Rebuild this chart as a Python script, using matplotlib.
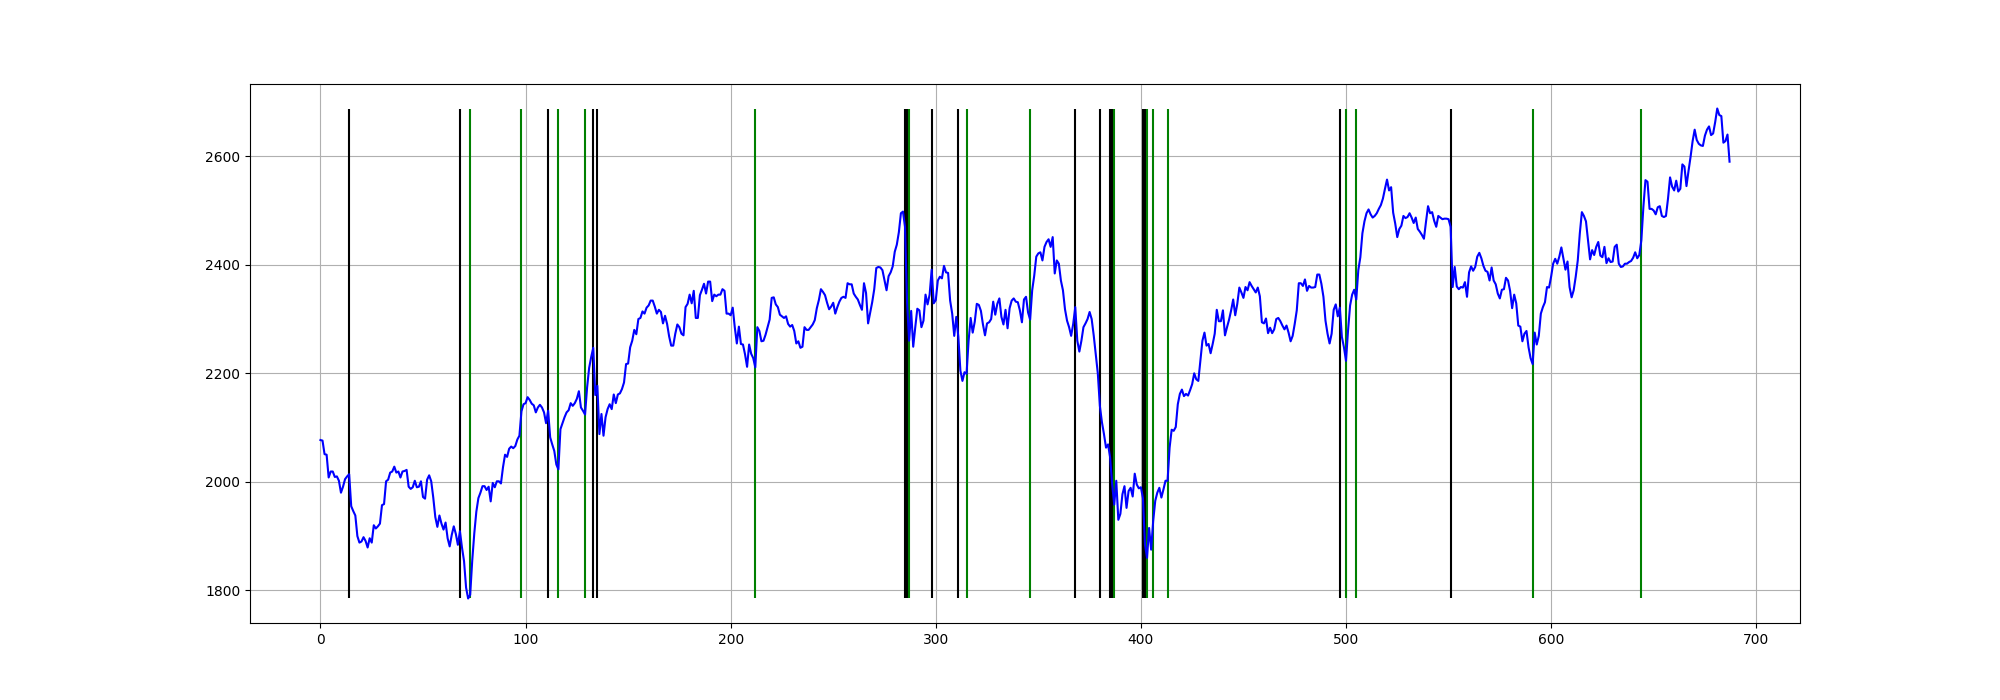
import numpy as np
import matplotlib
matplotlib.use("Agg")
import matplotlib.pyplot as plt

# closing prices, one per trading day
prices = [
    2077, 2076, 2051, 2050, 2008, 2019, 2019, 2009, 2010, 2002,
    1980, 1991, 2005, 2010, 2014, 1955, 1946, 1938, 1900, 1888,
    1890, 1898, 1891, 1879, 1896, 1888, 1920, 1914, 1918, 1923,
    1957, 1959, 2001, 2004, 2017, 2019, 2028, 2017, 2019, 2008,
    2019, 2020, 2022, 1991, 1987, 1990, 2002, 1990, 1991, 2001,
    1972, 1969, 2004, 2012, 2001, 1971, 1935, 1917, 1938, 1923,
    1912, 1925, 1896, 1881, 1902, 1918, 1904, 1884, 1909, 1879,
    1854, 1805, 1785, 1792, 1855, 1905, 1945, 1970, 1980, 1992,
    1992, 1985, 1991, 1964, 1998, 1990, 2001, 2001, 1997, 2027,
    2050, 2046, 2061, 2065, 2062, 2066, 2078, 2085, 2130, 2143,
    2145, 2156, 2151, 2144, 2141, 2128, 2137, 2142, 2137, 2128,
    2108, 2131, 2082, 2069, 2057, 2032, 2023, 2097, 2108, 2119,
    2128, 2132, 2145, 2140, 2145, 2153, 2167, 2137, 2131, 2124,
    2174, 2210, 2230, 2247, 2160, 2177, 2088, 2125, 2085, 2119,
    2134, 2143, 2134, 2161, 2145, 2161, 2163, 2171, 2183, 2217,
    2218, 2248, 2260, 2280, 2272, 2300, 2302, 2314, 2310, 2321,
    2325, 2334, 2334, 2323, 2310, 2317, 2313, 2292, 2306, 2291,
    2268, 2251, 2251, 2273, 2290, 2285, 2273, 2270, 2322, 2328,
    2345, 2329, 2352, 2302, 2302, 2344, 2354, 2365, 2347, 2369,
    2369, 2333, 2345, 2342, 2345, 2345, 2355, 2352, 2310, 2310,
    2307, 2321, 2285, 2255, 2286, 2254, 2253, 2235, 2212, 2253,
    2236, 2228, 2211, 2285, 2278, 2259, 2260, 2271, 2285, 2299,
    2339, 2340, 2327, 2322, 2308, 2305, 2302, 2305, 2291, 2286,
    2289, 2278, 2255, 2259, 2247, 2249, 2285, 2280, 2280, 2285,
    2290, 2298, 2320, 2335, 2355, 2350, 2344, 2330, 2318, 2323,
    2330, 2310, 2322, 2332, 2339, 2341, 2339, 2366, 2364, 2364,
    2347, 2341, 2336, 2326, 2317, 2366, 2348, 2292, 2311, 2331,
    2355, 2394, 2396, 2395, 2390, 2371, 2353, 2379, 2386, 2397,
    2424, 2437, 2460, 2495, 2498, 2470, 2330, 2260, 2315, 2249,
    2285, 2319, 2316, 2285, 2297, 2345, 2327, 2345, 2391, 2329,
    2335, 2371, 2378, 2375, 2398, 2386, 2385, 2334, 2310, 2269,
    2304, 2267, 2205, 2186, 2202, 2199, 2260, 2302, 2275, 2295,
    2328, 2326, 2315, 2290, 2270, 2292, 2294, 2300, 2332, 2308,
    2328, 2338, 2304, 2290, 2317, 2283, 2320, 2334, 2338, 2332,
    2331, 2316, 2294, 2336, 2341, 2312, 2299, 2353, 2380, 2415,
    2421, 2423, 2408, 2433, 2442, 2447, 2433, 2451, 2384, 2408,
    2402, 2371, 2353, 2318, 2297, 2285, 2269, 2291, 2322, 2260,
    2240, 2260, 2285, 2292, 2300, 2313, 2300, 2270, 2235, 2200,
    2140, 2110, 2088, 2063, 2069, 2045, 1995, 1958, 2002, 1930,
    1941, 1977, 1992, 1952, 1983, 1989, 1973, 2015, 1995, 1988,
    1990, 1970, 1884, 1860, 1915, 1875, 1928, 1965, 1980, 1989,
    1971, 1986, 2002, 2002, 2063, 2096, 2094, 2101, 2143, 2162,
    2170, 2158, 2162, 2159, 2169, 2180, 2200, 2189, 2186, 2223,
    2260, 2275, 2251, 2254, 2237, 2254, 2273, 2317, 2296, 2296,
    2316, 2270, 2285, 2299, 2316, 2336, 2307, 2328, 2358, 2349,
    2339, 2359, 2353, 2368, 2361, 2355, 2349, 2358, 2342, 2294,
    2292, 2301, 2274, 2284, 2274, 2281, 2300, 2302, 2296, 2288,
    2281, 2288, 2275, 2259, 2269, 2291, 2316, 2366, 2366, 2361,
    2373, 2352, 2361, 2358, 2358, 2359, 2382, 2382, 2365, 2341,
    2297, 2273, 2255, 2273, 2317, 2327, 2305, 2321, 2267, 2248,
    2223, 2279, 2325, 2345, 2354, 2336, 2390, 2414, 2458, 2480,
    2495, 2502, 2493, 2487, 2490, 2495, 2503, 2510, 2522, 2540,
    2557, 2537, 2543, 2496, 2476, 2451, 2466, 2472, 2490, 2486,
    2488, 2495, 2487, 2477, 2487, 2466, 2461, 2455, 2448, 2479,
    2508, 2495, 2497, 2481, 2470, 2490, 2487, 2484, 2485, 2485,
    2484, 2470, 2359, 2396, 2360, 2355, 2359, 2358, 2368, 2341,
    2386, 2397, 2389, 2396, 2415, 2422, 2412, 2398, 2389, 2387,
    2371, 2395, 2371, 2364, 2347, 2338, 2354, 2355, 2376, 2371,
    2352, 2320, 2345, 2329, 2288, 2286, 2259, 2273, 2278, 2248,
    2228, 2217, 2275, 2253, 2269, 2310, 2322, 2331, 2359, 2358,
    2378, 2402, 2411, 2402, 2415, 2432, 2412, 2391, 2406, 2359,
    2340, 2353, 2378, 2408, 2458, 2497, 2490, 2480, 2445, 2410,
    2427, 2418, 2433, 2442, 2417, 2414, 2433, 2403, 2412, 2405,
    2406, 2433, 2437, 2402, 2396, 2397, 2402, 2402, 2405, 2407,
    2413, 2423, 2412, 2418, 2445, 2507, 2556, 2553, 2503, 2503,
    2500, 2493, 2506, 2508, 2490, 2488, 2490, 2522, 2561, 2544,
    2537, 2555, 2535, 2540, 2585, 2581, 2545, 2573, 2599, 2628,
    2649, 2630, 2623, 2620, 2619, 2638, 2649, 2655, 2639, 2642,
    2663, 2688, 2676, 2674, 2625, 2628, 2640, 2590,
]

# signal days
black_days = [14, 68, 111, 133, 135, 285, 286, 298, 311, 368, 380, 385, 386,
              401, 402, 497, 551]
green_days = [73, 98, 116, 129, 212, 287, 315, 346, 387, 403, 406, 413, 500,
              505, 591, 644]

prices = np.array(prices)
days = np.arange(len(prices))
lo = prices.min()
hi = prices.max()

plt.figure(figsize=(20, 7))
plt.vlines(black_days, lo, hi, color='black')
plt.vlines(green_days, lo, hi, color='green')
plt.plot(days, prices, color='blue')
plt.grid(True)
plt.savefig('out.png', dpi=100)
